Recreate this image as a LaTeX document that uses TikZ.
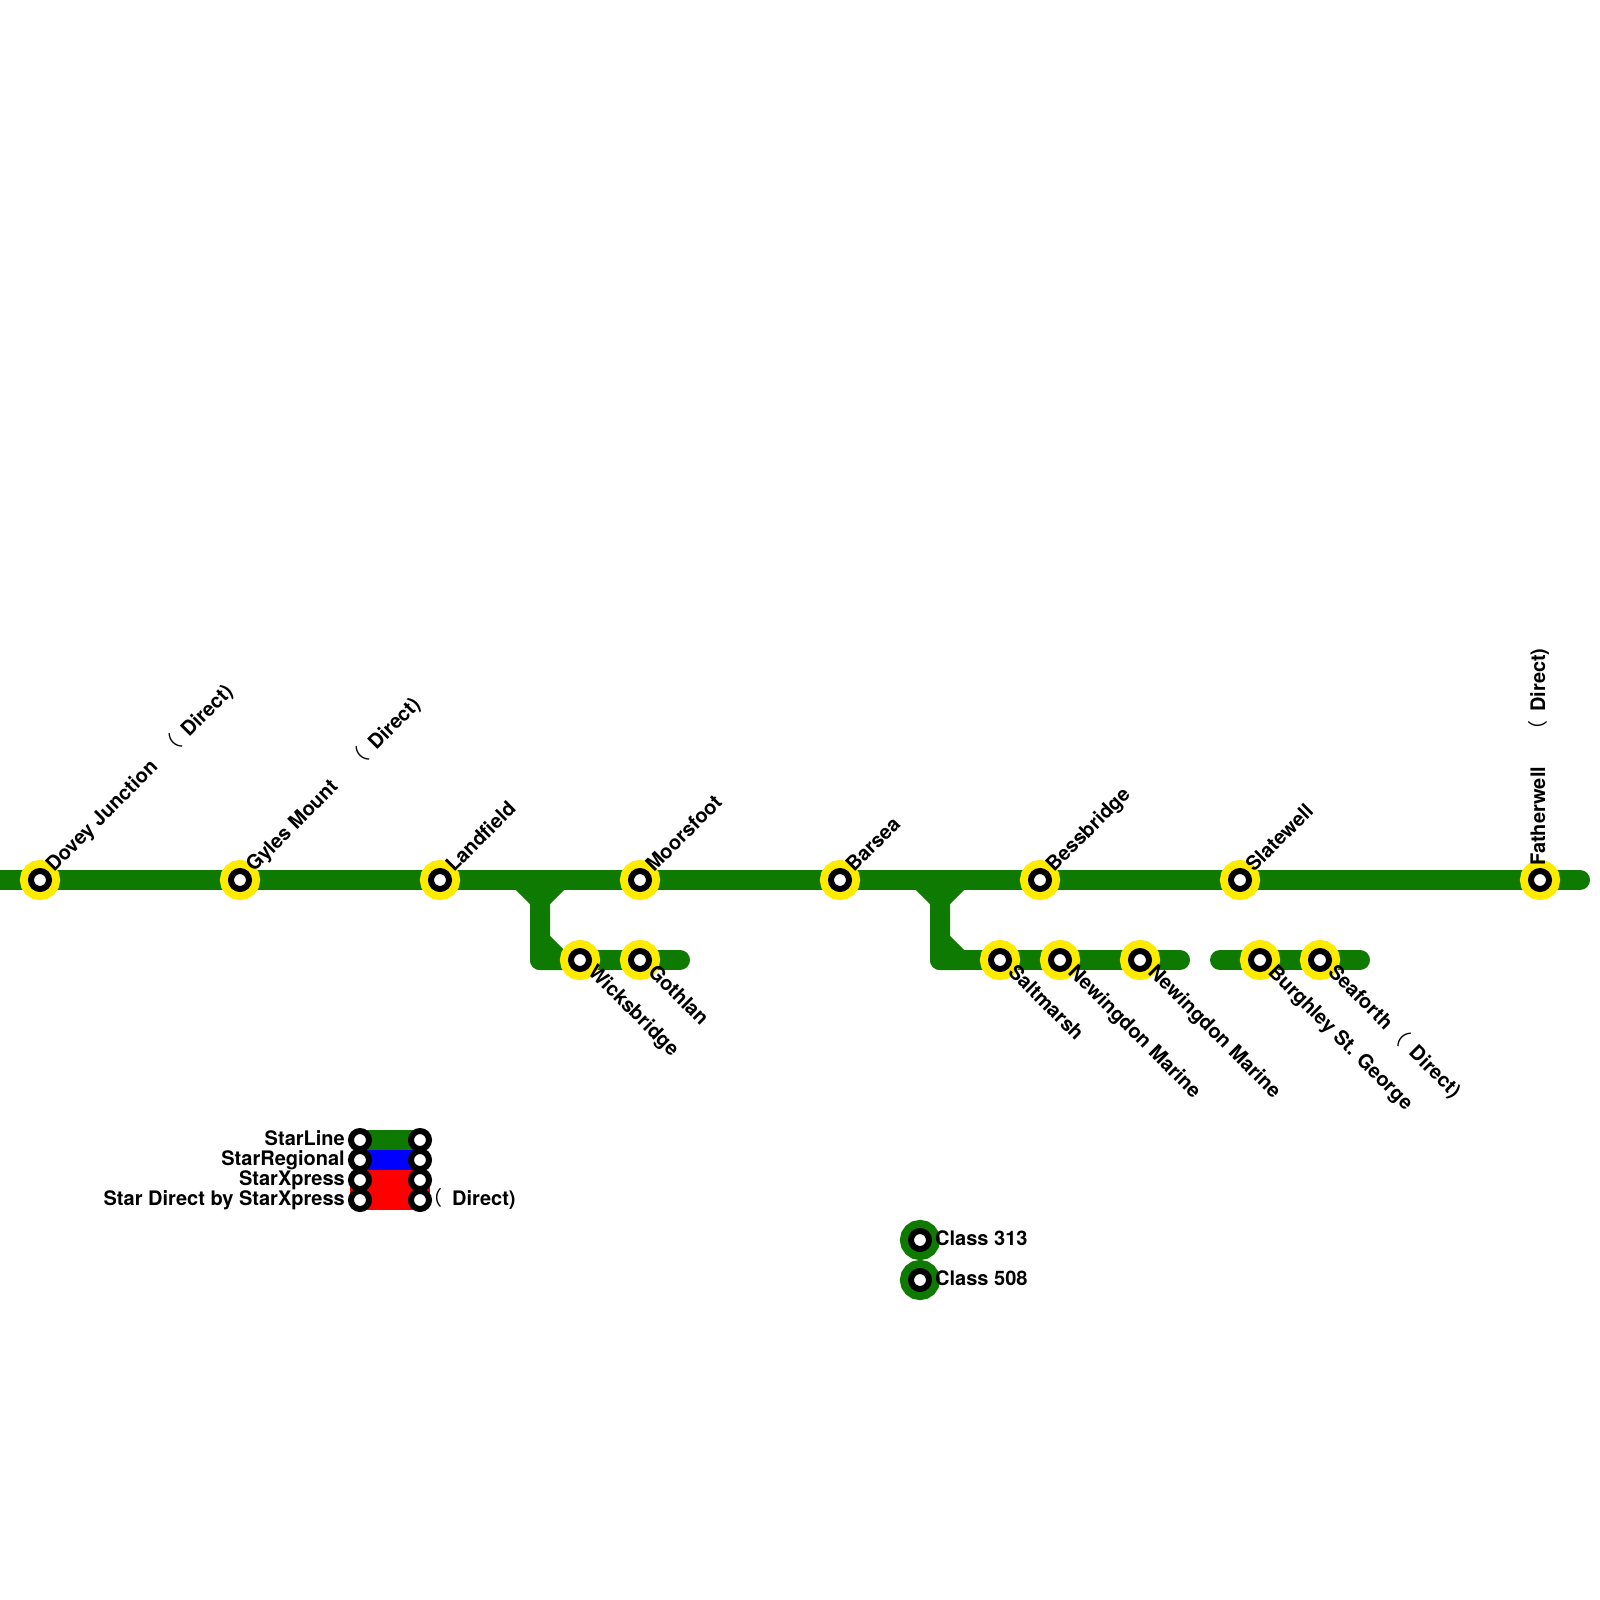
\documentclass[tikz,border=0pt]{standalone}
\usepackage{fontspec}
\setmainfont{TeX Gyre Heros}
\newfontfamily\cjkparen{Noto Sans CJK SC}
\usepackage{tikz}
\usetikzlibrary{positioning,calc}
\definecolor{LineGreen}{HTML}{0F7A02}
\definecolor{LineBlue}{HTML}{0000FF}
\definecolor{LineRed}{HTML}{FF0000}
\definecolor{RingYellow}{HTML}{FFEB00}
\newcommand{\direct}[2]{\hspace{#1}{\cjkparen\mdseries （}\hspace{#2}Direct)}
\tikzset{
	every node/.style={font=\fontsize{20}{22}\selectfont\bfseries},
	metroline/.style={draw=LineGreen,line width=20pt,line join=round},
	legendline/.style={line width=20pt},
	plainstation/.style={circle,inner sep=0pt,minimum size=18pt,fill=white,draw=black,line width=6pt},
	station/.style={plainstation,preaction={draw=RingYellow,line width=22pt}},
	classstation/.style={plainstation,preaction={draw=LineGreen,line width=22pt}},
	uplabel/.style={rotate=45,anchor=base west,inner sep=0pt},
	downlabel/.style={rotate=-45,anchor=base west,inner sep=0pt},
	sidelabel/.style={anchor=base east,inner sep=0pt},
	namelabel/.style={anchor=base west,inner sep=0pt}
}
\begin{document}
\begin{tikzpicture}[x=1pt,y=-1pt]
	\useasboundingbox (0,0) rectangle (1600,1600);
	
	% main line
	\coordinate (linestart) at (-20,880);
	\coordinate (lineend) at (1580,880);
	\draw[metroline,line cap=round] (linestart) -- (lineend);
	
	% first branch
	\coordinate (forkone) at (540,880);
	\coordinate (forkoneleft) at (520,880);
	\coordinate (forkoneright) at (560,880);
	\coordinate (forkonemid) at (540,900);
	\coordinate (cornerone) at (540,960);
	\coordinate (cornerdiagone) at (540,940);
	\coordinate (cornerdiagoneend) at (560,960);
	\coordinate (branchoneend) at (680,960);
	\draw[metroline] (forkoneleft) -- (forkonemid) -- (forkoneright);
	\draw[metroline] (forkone) -- (cornerone) -- (cornerdiagoneend) -- (cornerdiagone);
	\draw[metroline,line cap=round] (cornerone) -- (branchoneend);
	
	% second branch
	\coordinate (forktwo) at (940,880);
	\coordinate (forktwoleft) at (920,880);
	\coordinate (forktworight) at (960,880);
	\coordinate (forktwomid) at (940,900);
	\coordinate (cornertwo) at (940,960);
	\coordinate (cornerdiagtwo) at (940,940);
	\coordinate (cornerdiagtwoend) at (960,960);
	\coordinate (branchtwoend) at (1180,960);
	\draw[metroline] (forktwoleft) -- (forktwomid) -- (forktworight);
	\draw[metroline] (forktwo) -- (cornertwo) -- (cornerdiagtwoend) -- (cornerdiagtwo);
	\draw[metroline,line cap=round] (cornertwo) -- (branchtwoend);
	
	% separate piece
	\coordinate (piecestart) at (1220,960);
	\coordinate (pieceend) at (1360,960);
	\draw[metroline,line cap=round] (piecestart) -- (pieceend);
	
	% stations on the main line
	\node[station] (dovey) at (40,880) {};
	\node[station] (gyles) at (240,880) {};
	\node[station] (landfield) at (440,880) {};
	\node[station] (moorsfoot) at (640,880) {};
	\node[station] (barsea) at (840,880) {};
	\node[station] (bessbridge) at (1040,880) {};
	\node[station] (slatewell) at (1240,880) {};
	\node[station] (fatherwell) at (1540,880) {};
	
	% stations on the branches
	\node[station] (wicksbridge) at (580,960) {};
	\node[station] (gothlan) at (640,960) {};
	\node[station] (saltmarsh) at (1000,960) {};
	\node[station] (newingdonone) at (1060,960) {};
	\node[station] (newingdontwo) at (1140,960) {};
	\node[station] (burghley) at (1260,960) {};
	\node[station] (seaforth) at (1320,960) {};
	
	% station names
	\node[uplabel] (doveylabel) at ($(dovey)+(14,-7)$) {Dovey Junction\direct{14pt}{9pt}};
	\node[uplabel] (gyleslabel) at ($(gyles)+(14,-7)$) {Gyles Mount\direct{24pt}{9pt}};
	\node[uplabel] (landfieldlabel) at ($(landfield)+(14,-7)$) {Landfield};
	\node[uplabel] (moorsfootlabel) at ($(moorsfoot)+(14,-7)$) {Moorsfoot};
	\node[uplabel] (barsealabel) at ($(barsea)+(14,-7)$) {Barsea};
	\node[uplabel] (bessbridgelabel) at ($(bessbridge)+(14,-7)$) {Bessbridge};
	\node[uplabel] (slatewelllabel) at ($(slatewell)+(14,-7)$) {Slatewell};
	\node[rotate=90,anchor=base west,inner sep=0pt] (fatherwelllabel) at ($(fatherwell)+(5,-14)$) {Fatherwell\direct{26pt}{9pt}};
	\node[downlabel] (wicksbridgelabel) at ($(wicksbridge)+(7,13)$) {Wicksbridge};
	\node[downlabel] (gothlanlabel) at ($(gothlan)+(7,13)$) {Gothlan};
	\node[downlabel] (saltmarshlabel) at ($(saltmarsh)+(7,13)$) {Saltmarsh};
	\node[downlabel] (newingdononelabel) at ($(newingdonone)+(7,13)$) {Newingdon Marine};
	\node[downlabel] (newingdontwolabel) at ($(newingdontwo)+(7,13)$) {Newingdon Marine};
	\node[downlabel] (burghleylabel) at ($(burghley)+(7,13)$) {Burghley St. George};
	\node[downlabel] (seaforthlabel) at ($(seaforth)+(7,13)$) {Seaforth\direct{3pt}{10pt}};
	
	% line legend
	\coordinate (keyoneleft) at (360,1140);
	\coordinate (keyoneright) at (420,1140);
	\coordinate (keytwoleft) at (360,1160);
	\coordinate (keytworight) at (420,1160);
	\coordinate (keythreeleft) at (360,1180);
	\coordinate (keythreeright) at (420,1180);
	\coordinate (keyfourleft) at (360,1200);
	\coordinate (keyfourright) at (420,1200);
	\coordinate (keynotchleft) at (350,1190);
	\coordinate (keynotchright) at (430,1190);
	\draw[draw=LineRed,line width=8pt] (keynotchleft) -- (keynotchright);
	\draw[legendline,draw=LineRed,line cap=round] (keyfourleft) -- (keyfourright);
	\draw[legendline,draw=LineGreen] (keyoneleft) -- (keyoneright);
	\draw[legendline,draw=LineBlue] (keytwoleft) -- (keytworight);
	\draw[legendline,draw=LineRed] (keythreeleft) -- (keythreeright);
	\node[plainstation] (starlineleft) at (keyoneleft) {};
	\node[plainstation] (starlineright) at (keyoneright) {};
	\node[plainstation] (regionalleft) at (keytwoleft) {};
	\node[plainstation] (regionalright) at (keytworight) {};
	\node[plainstation] (xpressleft) at (keythreeleft) {};
	\node[plainstation] (xpressright) at (keythreeright) {};
	\node[plainstation] (directleft) at (keyfourleft) {};
	\node[plainstation] (directright) at (keyfourright) {};
	\node[sidelabel] (starlinelabel) at ($(keyoneleft)+(-15,5)$) {StarLine};
	\node[sidelabel] (regionallabel) at ($(keytwoleft)+(-15,5)$) {StarRegional};
	\node[sidelabel] (xpresslabel) at ($(keythreeleft)+(-15,5)$) {StarXpress};
	\node[sidelabel] (directlabel) at ($(keyfourleft)+(-15,5)$) {Star Direct by StarXpress};
	\node[namelabel] (directnote) at ($(keyfourright)+(2,5)$) {\direct{0pt}{10pt}};
	
	% class legend
	\node[classstation] (classone) at (920,1240) {};
	\node[classstation] (classtwo) at (920,1280) {};
	\node[namelabel] (classonelabel) at ($(classone)+(15,5)$) {Class 313};
	\node[namelabel] (classtwolabel) at ($(classtwo)+(15,5)$) {Class 508};
\end{tikzpicture}
\end{document}
